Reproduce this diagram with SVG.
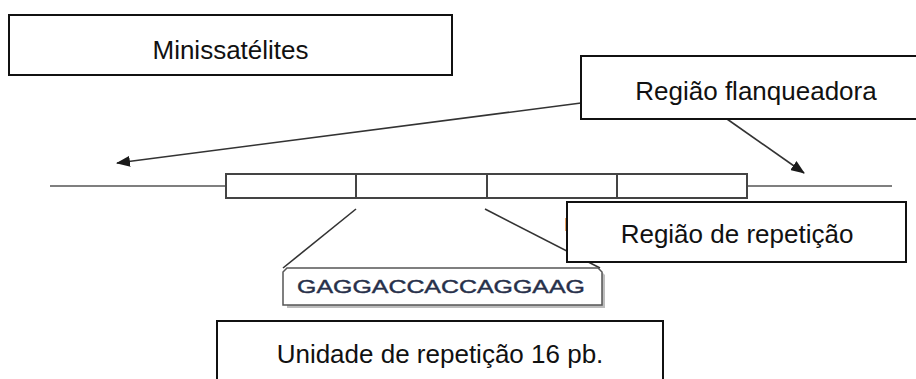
<svg xmlns="http://www.w3.org/2000/svg" width="916" height="379" viewBox="0 0 916 379">
  <defs>
    <marker id="arrow" viewBox="0 0 14 11" refX="13" refY="5.5" markerWidth="14" markerHeight="11" markerUnits="userSpaceOnUse" orient="auto">
      <path d="M0,0 L14,5.5 L0,11 Z" fill="#1a1a1a"/>
    </marker>
    <style>
      .label { font-family: "Liberation Sans", Arial, sans-serif; font-size: 26px; fill: #111; text-anchor: middle; }
      .box { fill: #fff; stroke: #111; stroke-width: 2; }
      .dna { fill: none; stroke: #555; stroke-width: 1.6; }
      .seg { fill: #fff; stroke: #444; stroke-width: 2; }
      .conn { fill: none; stroke: #333; stroke-width: 1.6; }
      .seq { font-family: "Liberation Sans", Arial, sans-serif; font-size: 19px; fill: #27304a; stroke: #27304a; stroke-width: 0.4; }
    </style>
  </defs>

  <rect width="916" height="379" fill="#fff"/>

  <g id="dna">
    <line class="dna" x1="50" y1="186" x2="226" y2="186"/>
    <line class="dna" x1="747" y1="186" x2="892" y2="186"/>
    <rect class="seg" x="226" y="174" width="521" height="24"/>
    <line class="seg" x1="356" y1="174" x2="356" y2="198"/>
    <line class="seg" x1="487" y1="174" x2="487" y2="198"/>
    <line class="seg" x1="617" y1="174" x2="617" y2="198"/>
  </g>

  <g id="connectors">
    <line class="conn" x1="581" y1="103" x2="117" y2="163" marker-end="url(#arrow)"/>
    <line class="conn" x1="727" y1="119" x2="804" y2="173" marker-end="url(#arrow)"/>
    <line class="conn" x1="356" y1="209" x2="283" y2="268"/>
    <line class="conn" x1="485" y1="209" x2="600" y2="268"/>
  </g>

  <g id="minissatelites">
    <rect class="box" x="9" y="15" width="443" height="60"/>
    <text class="label" x="230.5" y="59">Minissatélites</text>
  </g>

  <g id="regiao-flanqueadora">
    <rect class="box" x="581" y="56" width="350" height="63"/>
    <text class="label" x="756" y="100">Região flanqueadora</text>
  </g>

  <rect x="565" y="218" width="2" height="13" fill="#e8a060"/>

  <g id="regiao-repeticao">
    <rect class="box" x="567" y="202" width="339" height="60"/>
    <text class="label" x="737" y="243">Região de repetição</text>
  </g>

  <g id="sequencia">
    <polygon points="287,275 290,271 601,271 605,275 605,308 287,308" fill="#bdbdbd"/>
    <polygon points="283,272 287,268 598,268 602,272 602,305 283,305" fill="#fff" stroke="#555" stroke-width="1.5"/>
    <text class="seq" x="297" y="293" textLength="288" lengthAdjust="spacingAndGlyphs">GAGGACCACCAGGAAG</text>
  </g>

  <g id="unidade">
    <rect class="box" x="217" y="321" width="446" height="70"/>
    <text class="label" x="440" y="363">Unidade de repetição 16 pb.</text>
  </g>
</svg>
